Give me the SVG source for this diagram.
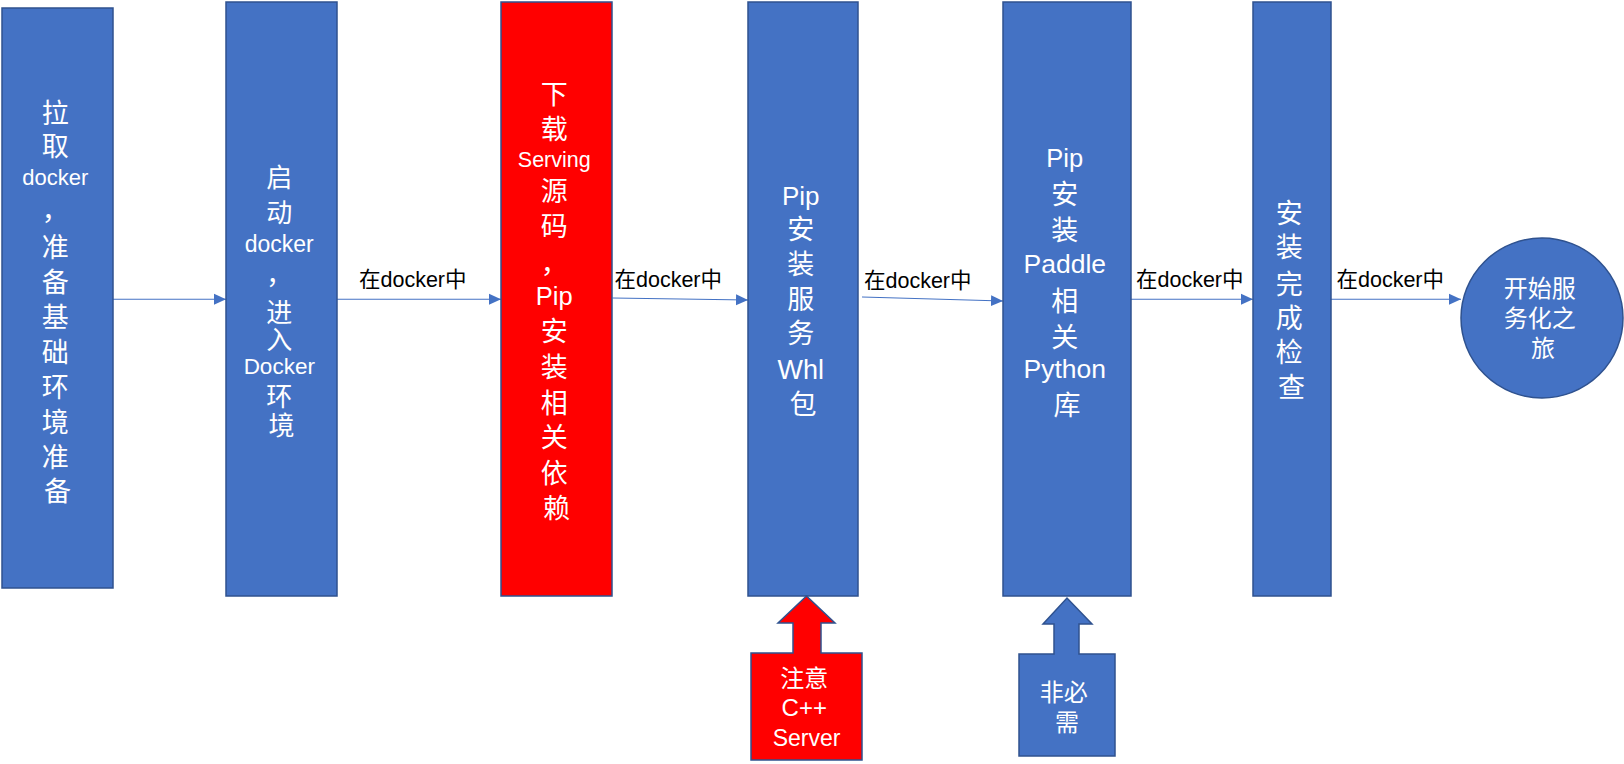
<svg xmlns="http://www.w3.org/2000/svg" width="1624" height="764" viewBox="0 0 1624 764">
<style>
.box{fill:#4472C4;stroke:#2F528F;stroke-width:1.5}
.red{fill:#FF0000;stroke:#2F528F;stroke-width:1.5}
.t{fill:#FFFFFF;text-anchor:middle;font-family:"Liberation Sans","Noto Sans CJK SC",sans-serif}
.lbl{fill:#000000;font-family:"Liberation Sans","Noto Sans CJK SC",sans-serif;font-size:21.5px}
.c{font-size:27px}
.conn{stroke:#4472C4;stroke-width:1.1;fill:none;marker-end:url(#ah)}
</style>
<defs>
<marker id="ah" markerUnits="userSpaceOnUse" markerWidth="13" markerHeight="12" refX="12" refY="6" orient="auto">
<path d="M0,0.5 L12,6 L0,11.5 Z" fill="#4472C4"/>
</marker>
</defs>
<rect width="1624" height="764" fill="#FFFFFF"/>

<g id="connectors">
<line class="conn" x1="113" y1="299.3" x2="226" y2="299.3"/>
<line class="conn" x1="337" y1="299.3" x2="501" y2="299.3"/>
<line class="conn" x1="612.5" y1="298" x2="748" y2="300"/>
<line class="conn" x1="862" y1="297" x2="1003" y2="301"/>
<line class="conn" x1="1131" y1="299.3" x2="1253" y2="299.3"/>
<line class="conn" x1="1331" y1="299.3" x2="1461" y2="299.3"/>
<text class="lbl" x="359" y="287">在docker中</text>
<text class="lbl" x="614.5" y="287">在docker中</text>
<text class="lbl" x="864" y="288">在docker中</text>
<text class="lbl" x="1136" y="287">在docker中</text>
<text class="lbl" x="1336.5" y="287">在docker中</text>
</g>

<g id="node1">
<rect class="box" x="2" y="8" width="111" height="580"/>
<text class="t">
<tspan class="c" x="57.5" y="122.5">拉</tspan>
<tspan class="c" x="57.5" y="156">取</tspan>
<tspan x="57.5" y="185" font-size="22">docker</tspan>
<tspan class="c" x="57.5" y="220">，</tspan>
<tspan class="c" x="57.5" y="257">准</tspan>
<tspan class="c" x="57.5" y="292">备</tspan>
<tspan class="c" x="57.5" y="327">基</tspan>
<tspan class="c" x="57.5" y="362">础</tspan>
<tspan class="c" x="57.5" y="397">环</tspan>
<tspan class="c" x="57.5" y="432">境</tspan>
<tspan class="c" x="57.5" y="466.5">准</tspan>
<tspan class="c" x="57.5" y="500.5">备</tspan>
</text>
</g>

<g id="node2">
<rect class="box" x="226" y="2" width="111" height="594"/>
<text class="t">
<tspan x="281.5" y="186.6" font-size="26">启</tspan>
<tspan x="281.5" y="221.6" font-size="26">动</tspan>
<tspan x="281.5" y="251.7" font-size="23">docker</tspan>
<tspan x="281.5" y="284" font-size="26">，</tspan>
<tspan x="281.5" y="321.5" font-size="26">进</tspan>
<tspan x="281.5" y="348.6" font-size="26">入</tspan>
<tspan x="281.5" y="374" font-size="22.5">Docker</tspan>
<tspan x="281.5" y="405.6" font-size="26">环</tspan>
<tspan x="281.5" y="435" font-size="26">境</tspan>
</text>
</g>

<g id="node3">
<rect class="red" x="501" y="2" width="111" height="594"/>
<text class="t">
<tspan class="c" x="556.5" y="103.6">下</tspan>
<tspan class="c" x="556.5" y="138.6">载</tspan>
<tspan x="556.5" y="166.7" font-size="21.5">Serving</tspan>
<tspan class="c" x="556.5" y="201">源</tspan>
<tspan class="c" x="556.5" y="236">码</tspan>
<tspan class="c" x="556.5" y="273">，</tspan>
<tspan x="556.5" y="305" font-size="25.5">Pip</tspan>
<tspan class="c" x="556.5" y="341">安</tspan>
<tspan class="c" x="556.5" y="377">装</tspan>
<tspan class="c" x="556.5" y="412.6">相</tspan>
<tspan class="c" x="556.5" y="447">关</tspan>
<tspan class="c" x="556.5" y="482.6">依</tspan>
<tspan class="c" x="556.5" y="517.6">赖</tspan>
</text>
</g>

<g id="node4">
<rect class="box" x="748" y="2" width="110" height="594"/>
<text class="t">
<tspan x="803" y="204.7" font-size="26">Pip</tspan>
<tspan class="c" x="803" y="239.3">安</tspan>
<tspan class="c" x="803" y="274.3">装</tspan>
<tspan class="c" x="803" y="308.8">服</tspan>
<tspan class="c" x="803" y="343.3">务</tspan>
<tspan x="803" y="378.9" font-size="27">Whl</tspan>
<tspan class="c" x="803" y="414">包</tspan>
</text>
</g>

<g id="node5">
<rect class="box" x="1003" y="2" width="128" height="594"/>
<text class="t">
<tspan x="1067" y="167.3" font-size="25.5">Pip</tspan>
<tspan class="c" x="1067" y="204.3">安</tspan>
<tspan class="c" x="1067" y="240.3">装</tspan>
<tspan x="1067" y="273.3" font-size="26.5">Paddle</tspan>
<tspan class="c" x="1067" y="311">相</tspan>
<tspan class="c" x="1067" y="347">关</tspan>
<tspan x="1067" y="378.3" font-size="26.5">Python</tspan>
<tspan class="c" x="1067" y="415.3">库</tspan>
</text>
</g>

<g id="node6">
<rect class="box" x="1253" y="2" width="78" height="594"/>
<text class="t">
<tspan class="c" x="1291.5" y="222.7">安</tspan>
<tspan class="c" x="1291.5" y="257.2">装</tspan>
<tspan class="c" x="1291.5" y="293.5">完</tspan>
<tspan class="c" x="1291.5" y="328">成</tspan>
<tspan class="c" x="1291.5" y="362.3">检</tspan>
<tspan class="c" x="1291.5" y="396.8">查</tspan>
</text>
</g>

<g id="node7">
<ellipse class="box" cx="1542" cy="318" rx="81" ry="80"/>
<text class="t" font-size="24">
<tspan x="1543" y="297">开始服</tspan>
<tspan x="1543" y="327">务化之</tspan>
<tspan x="1543" y="357">旅</tspan>
</text>
</g>

<g id="note1">
<path class="red" d="M751,653 L793,653 L793,623 L778,623 L806.5,596 L835,623 L821,623 L821,653 L862,653 L862,760 L751,760 Z"/>
<text class="t">
<tspan x="806.5" y="687.4" font-size="24">注意</tspan>
<tspan x="806.5" y="716" font-size="24">C++</tspan>
<tspan x="806.5" y="746" font-size="23">Server</tspan>
</text>
</g>

<g id="note2">
<path class="box" d="M1019,654 L1054,654 L1054,624 L1043,624 L1067,598 L1092,624 L1079,624 L1079,654 L1115,654 L1115,756 L1019,756 Z"/>
<text class="t" font-size="24">
<tspan x="1067" y="700.8">非必</tspan>
<tspan x="1067" y="730.8">需</tspan>
</text>
</g>
</svg>
